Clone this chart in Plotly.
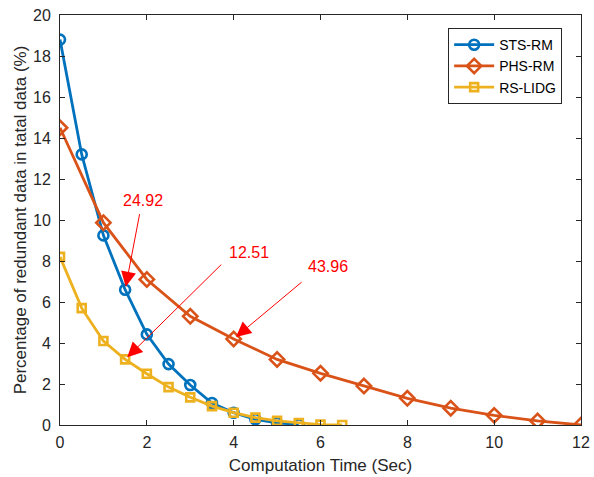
import plotly.graph_objects as go

# Data
sts_x = [0, 0.5, 1, 1.5, 2, 2.5, 3, 3.5, 4, 4.5, 5, 5.5]
sts_y = [18.8, 13.2, 9.25, 6.6, 4.42, 2.97, 1.95, 1.07, 0.6, 0.28, 0.1, 0.03]

phs_x = [0, 1, 2, 3, 4, 5, 6, 7, 8, 9, 10, 11, 12]
phs_y = [14.5, 9.87, 7.1, 5.3, 4.2, 3.2, 2.52, 1.9, 1.3, 0.82, 0.47, 0.2, 0.0]

rs_x = [0, 0.5, 1, 1.5, 2, 2.5, 3, 3.5, 4, 4.5, 5, 5.5, 6, 6.5]
rs_y = [8.2, 5.7, 4.1, 3.2, 2.5, 1.85, 1.35, 0.92, 0.6, 0.36, 0.2, 0.1, 0.02, 0.0]

labels = ["STS-RM", "PHS-RM", "RS-LIDG"]
colors = ["#0072BD", "#D95319", "#EDB120"]
symbols = ["circle-open", "diamond-open", "square-open"]

# annotations: text, text position, arrow tail, arrow head
ann_text = ["24.92", "12.51", "43.96"]
ann_text_pos = [(1.91, 10.97), (4.35, 8.4), (6.17, 7.71)]
ann_tail = [(1.84, 10.36), (3.75, 7.9), (5.6, 7.03)]
ann_head = [(1.5, 6.6), (1.5, 3.2), (4.0, 4.2)]

FONT = "Liberation Sans, Arial, sans-serif"
TXT = "#262626"

fig = go.Figure()
for xs, ys, name, c, s, sz in zip([sts_x, phs_x, rs_x], [sts_y, phs_y, rs_y],
                                  labels, colors, symbols, [10, 11, 8]):
    fig.add_trace(go.Scatter(
        x=xs, y=ys, name=name, mode="lines+markers",
        line=dict(color=c, width=2.8),
        marker=dict(symbol=s, size=sz, color=c, line=dict(color=c, width=2.6)),
    ))

annotations = []
for t, (tx, ty), (ax, ay), (hx, hy) in zip(ann_text, ann_text_pos, ann_tail, ann_head):
    annotations.append(dict(x=tx, y=ty, xref="x", yref="y", text=t, showarrow=False,
                            font=dict(family=FONT, size=16, color="#FF0000")))
    annotations.append(dict(x=hx, y=hy, xref="x", yref="y", ax=ax, ay=ay,
                            axref="x", ayref="y", text="", showarrow=True,
                            arrowhead=2, arrowsize=3, arrowwidth=1,
                            arrowcolor="#FF0000", standoff=3))

axis_common = dict(showline=True, linecolor=TXT, linewidth=1, mirror="ticks",
                   ticks="inside", ticklen=5, tickcolor=TXT, showgrid=False,
                   zeroline=False, tickfont=dict(family=FONT, size=16, color=TXT),
                   automargin=False)

fig.update_layout(
    width=594, height=477,
    margin=dict(l=60, r=13, t=15, b=52),
    paper_bgcolor="white", plot_bgcolor="white",
    font=dict(family=FONT, color=TXT),
    xaxis=dict(range=[0, 12], dtick=2, tick0=0, ticklabelstandoff=3,
               title=dict(text="Computation Time (Sec)", font=dict(family=FONT, size=17, color=TXT), standoff=8),
               **axis_common),
    yaxis=dict(range=[0, 20], dtick=2, tick0=0, ticklabelstandoff=5,
               title=dict(text="Percentage of redundant data in tatal data (%)", font=dict(family=FONT, size=17, color=TXT), standoff=2),
               **axis_common),
    legend=dict(x=0.745, y=0.968, xanchor="left", yanchor="top",
                bgcolor="white", bordercolor=TXT, borderwidth=1,
                font=dict(family=FONT, size=14, color="#000000"),
                tracegroupgap=0, itemwidth=40),
    annotations=annotations,
    showlegend=True,
)

fig.write_html("out.html")
